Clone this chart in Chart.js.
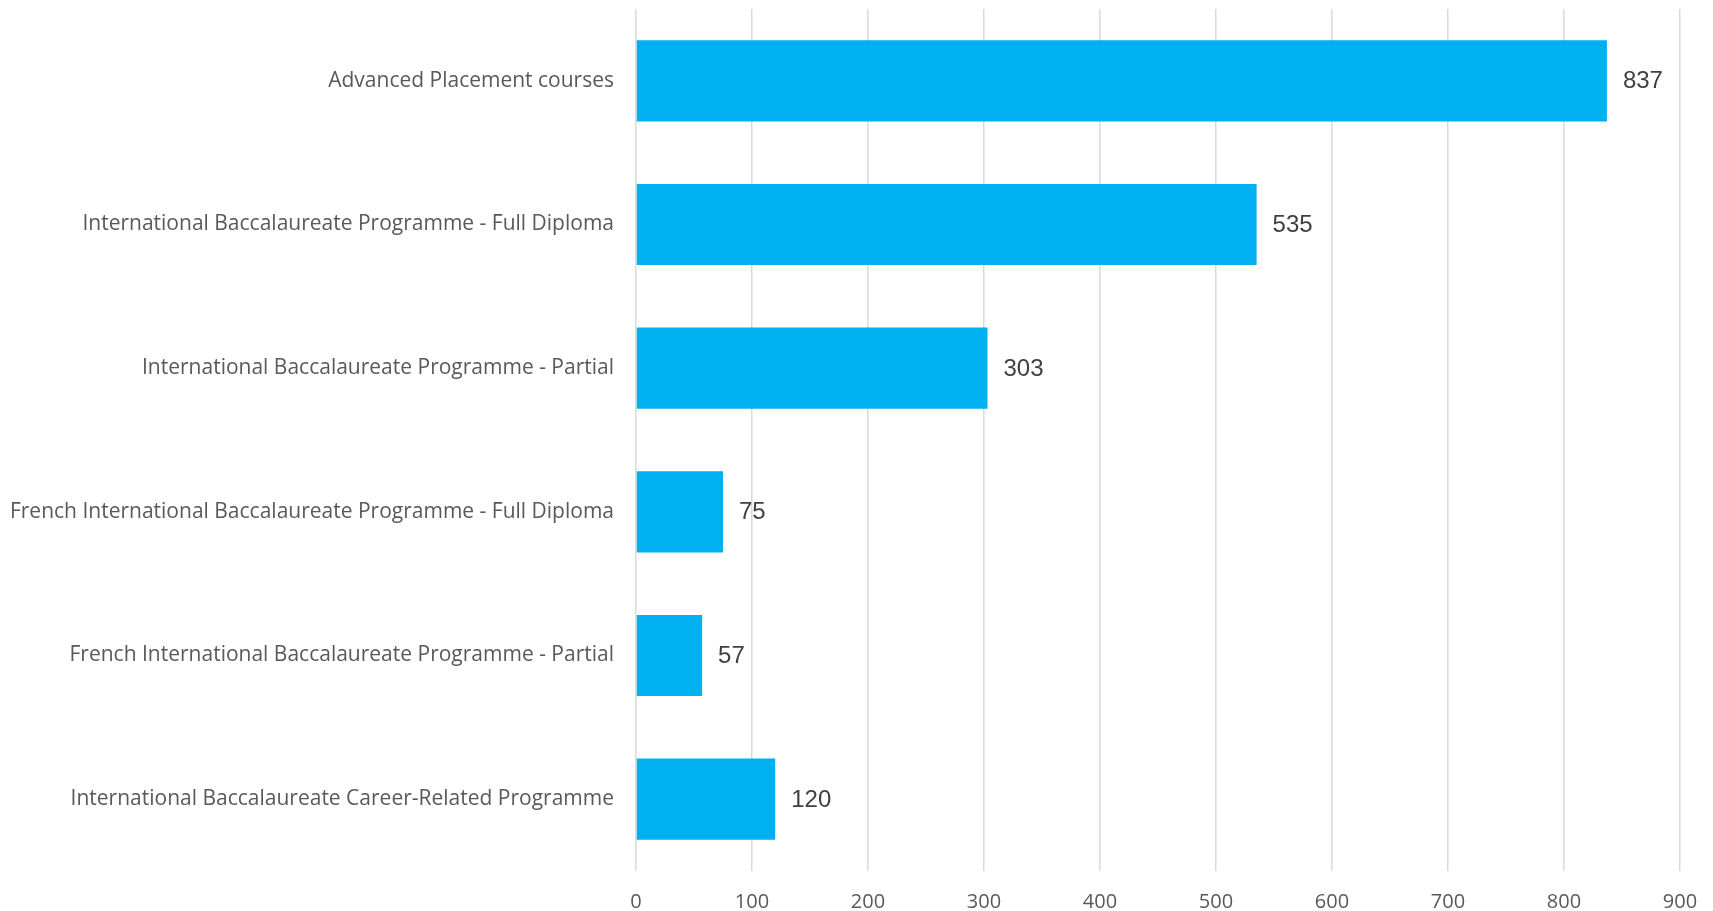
<!DOCTYPE html>
<html>
<head>
<meta charset="utf-8">
<script src="https://cdn.jsdelivr.net/npm/chart.js@4.4.1/dist/chart.umd.min.js"></script>
<style>
  html, body { margin: 0; padding: 0; background: #ffffff; }
  #wrap { width: 1713px; height: 911px; }
</style>
</head>
<body>
<div id="wrap"><canvas id="c" width="1713" height="911"></canvas></div>
<script>
const categories = [
  "Advanced Placement courses",
  "International Baccalaureate Programme - Full Diploma",
  "International Baccalaureate Programme - Partial",
  "French International Baccalaureate Programme - Full Diploma",
  "French International Baccalaureate Programme - Partial",
  "International Baccalaureate Career-Related Programme"
];
const values = [837, 535, 303, 75, 57, 120];
const xTicks = [0, 100, 200, 300, 400, 500, 600, 700, 800, 900];

const valueLabels = {
  id: 'valueLabels',
  afterDatasetsDraw(chart) {
    const ctx = chart.ctx;
    const meta = chart.getDatasetMeta(0);
    ctx.save();
    ctx.font = '24px "Liberation Sans", Arial, sans-serif';
    ctx.fillStyle = '#404040';
    ctx.textAlign = 'left';
    ctx.textBaseline = 'middle';
    meta.data.forEach((bar, i) => {
      ctx.fillText(String(values[i]), bar.x + 16, bar.y + 1);
    });
    ctx.restore();
  }
};

new Chart(document.getElementById('c'), {
  type: 'bar',
  data: {
    labels: categories,
    datasets: [{
      data: values,
      backgroundColor: '#00B0F0',
      borderWidth: 0,
      categoryPercentage: 1.0,
      barPercentage: 0.565
    }]
  },
  options: {
    indexAxis: 'y',
    responsive: false,
    animation: false,
    devicePixelRatio: 1,
    layout: { padding: { top: 9, right: 33, left: 0, bottom: 0 } },
    plugins: { legend: { display: false }, tooltip: { enabled: false } },
    scales: {
      x: {
        min: 0, max: 900,
        afterBuildTicks(scale) { scale.ticks = xTicks.map(v => ({ value: v })); },
        afterFit(scale) {
          scale.height = 40;
          scale.paddingLeft = 0; scale.paddingRight = 0;
          scale.paddingTop = 0; scale.paddingBottom = 0;
        },
        grid: { color: '#D9D9D9', lineWidth: 1.5, drawTicks: false },
        border: { display: false },
        ticks: {
          padding: 19,
          color: '#595959',
          font: { family: '"Open Sans", sans-serif', size: 20 }
        }
      },
      y: {
        afterFit(scale) {
          scale.width = 636;
          scale.paddingTop = 0; scale.paddingBottom = 0;
          scale.paddingLeft = 0; scale.paddingRight = 0;
        },
        grid: { display: false },
        border: { display: false },
        ticks: {
          padding: 14,
          color: '#595959',
          font: { family: '"Open Sans", sans-serif', size: 21 }
        }
      }
    }
  },
  plugins: [valueLabels]
});
</script>
</body>
</html>
